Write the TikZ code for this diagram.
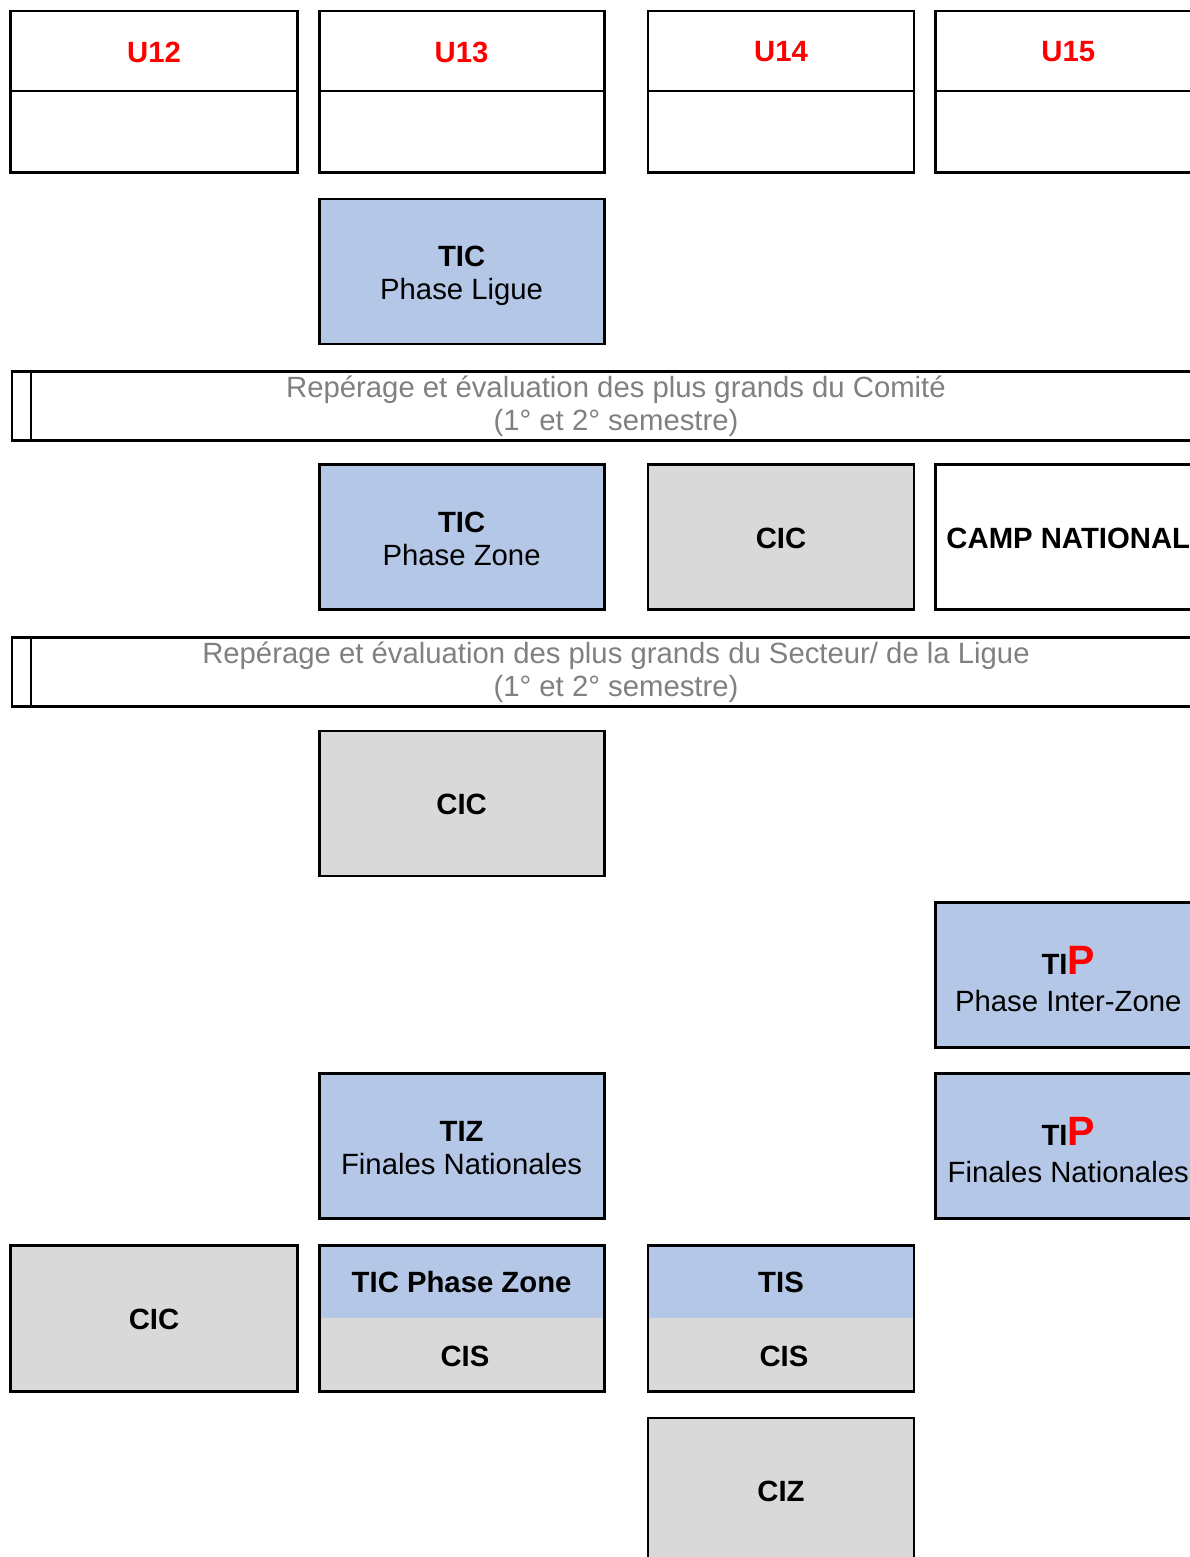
\documentclass[tikz,border=0pt]{standalone}
\usepackage{fontspec}
\setmainfont{Liberation Sans}
\definecolor{boxblue}{HTML}{B4C7E7}
\definecolor{boxgray}{HTML}{D9D9D9}
\definecolor{bantext}{HTML}{808080}
\definecolor{agered}{HTML}{FF0000}
\begin{document}
\begin{tikzpicture}[x=1pt,y=-1pt,
  txt/.style={font=\fontsize{29.3}{33}\selectfont, align=center, inner sep=0pt},
  boldtxt/.style={txt, font=\fontsize{29.3}{33}\selectfont\bfseries},
  box/.style={draw, line width=2.8pt, inner sep=0pt, outer sep=0pt, align=center,
              font=\fontsize{29.3}{33}\selectfont},
  bluebox/.style={box, fill=boxblue},
  greybox/.style={box, fill=boxgray},
  splitbox/.style={box, fill=boxgray, path picture={\fill[boxblue]
      (path picture bounding box.north west) rectangle (path picture bounding box.east);}},
  colA/.style={minimum width=287pt},
  colB/.style={minimum width=285pt},
  colC/.style={minimum width=266pt},
  colD/.style={minimum width=265.5pt},
  headtop/.style={minimum height=80pt},
  headbot/.style={minimum height=81.5pt},
  rowbox/.style={minimum height=145pt},
  agetext/.style={boldtxt, text=agered},
  bantxt/.style={txt, text=bantext},
  twoline/.style={txt, yshift=-4pt},
  twolineflat/.style={txt, yshift=-1.5pt},
  oneline/.style={boldtxt, yshift=-1pt}
]
\useasboundingbox (0,0) rectangle (1190,1557);
\clip (0,0) rectangle (1190,1557);

% header row
\node[box, colA, headtop] (u12) at (154,51) {};
\node[agetext, yshift=-1pt] (u12t) at (u12) {U12};
\node[box, colA, headbot] (u12b) at (154,131.75) {};
\node[box, colB, headtop] (u13) at (461.6,51) {};
\node[agetext, yshift=-1pt] (u13t) at (u13) {U13};
\node[box, colB, headbot] (u13b) at (461.6,131.75) {};
\node[box, colC, headtop] (u14) at (781,51) {};
\node[agetext, yshift=-1pt] (u14t) at (u14) {U14};
\node[box, colC, headbot] (u14b) at (781,131.75) {};
\node[box, colD, headtop] (u15) at (1068.25,51) {};
\node[agetext, yshift=-1pt] (u15t) at (u15) {U15};
\node[box, colD, headbot] (u15b) at (1068.25,131.75) {};

% TIC phase ligue
\node[bluebox, colB, rowbox] (ticligue) at (461.6,271.5) {};
\node[twoline] (ticliguet) at (ticligue) {\textbf{TIC}\\Phase Ligue};

% banner 1
\node[draw, line width=2.7pt, minimum width=1194.5pt, minimum height=68.7pt, inner sep=0pt, anchor=north west] (ban1) at (10.5,370.3) {};
\coordinate (ban1a) at (31,370.3);
\coordinate (ban1b) at (31,439);
\draw[line width=2.7pt] (ban1a) -- (ban1b);
\node[bantxt] (ban1t) at (616,406) {Repérage et évaluation des plus grands du Comité\\(1° et 2° semestre)};

% row 3
\node[bluebox, colB, rowbox] (ticzone) at (461.6,537) {};
\node[twolineflat] (ticzonet) at (ticzone) {\textbf{TIC}\\Phase Zone};
\node[greybox, colC, rowbox] (cic1) at (781,537) {};
\node[oneline] (cic1t) at (cic1) {CIC};
\node[box, colD, rowbox] (camp) at (1068.25,537) {};
\node[oneline] (campt) at (camp) {CAMP NATIONAL};

% banner 2
\node[draw, line width=2.7pt, minimum width=1194.5pt, minimum height=68.7pt, inner sep=0pt, anchor=north west] (ban2) at (10.5,636.3) {};
\coordinate (ban2a) at (31,636.3);
\coordinate (ban2b) at (31,705);
\draw[line width=2.7pt] (ban2a) -- (ban2b);
\node[bantxt] (ban2t) at (616,672.5) {Repérage et évaluation des plus grands du Secteur/ de la Ligue\\(1° et 2° semestre)};

% CIC row 4
\node[greybox, colB, rowbox] (cic2) at (461.6,803.5) {};
\node[oneline] (cic2t) at (cic2) {CIC};

% TIP inter-zone
\node[bluebox, colD, rowbox] (tipiz) at (1068.25,974.75) {};
\node[twoline] (tipizt) at (tipiz)
  {\textbf{TI{\color{agered}\fontsize{41}{33}\selectfont P}}\\[4pt]Phase Inter-Zone};

% TIZ / TIP finales
\node[bluebox, colB, rowbox] (tiz) at (461.6,1146.25) {};
\node[twolineflat] (tizt) at (tiz) {\textbf{TIZ}\\Finales Nationales};
\node[bluebox, colD, rowbox] (tipfn) at (1068.25,1146.25) {};
\node[twoline] (tipfnt) at (tipfn)
  {\textbf{TI{\color{agered}\fontsize{41}{33}\selectfont P}}\\[4pt]Finales Nationales};

% bottom row
\node[greybox, colA, minimum height=146pt] (cic3) at (154,1318.3) {};
\node[oneline] (cic3t) at (cic3) {CIC};
\node[splitbox, colB, minimum height=146pt] (split1) at (461.6,1318.3) {};
\node[boldtxt] (split1t) at (461.6,1282) {TIC Phase Zone};
\node[boldtxt] (split1b) at (465,1356) {CIS};
\node[splitbox, colC, minimum height=146pt] (split2) at (781,1318.3) {};
\node[boldtxt] (split2t) at (781,1282) {TIS};
\node[boldtxt] (split2b) at (784,1356) {CIS};

% CIZ
\node[greybox, colC, minimum height=144pt] (ciz) at (781,1490) {};
\node[oneline] (cizt) at (ciz) {CIZ};
\end{tikzpicture}
\end{document}
